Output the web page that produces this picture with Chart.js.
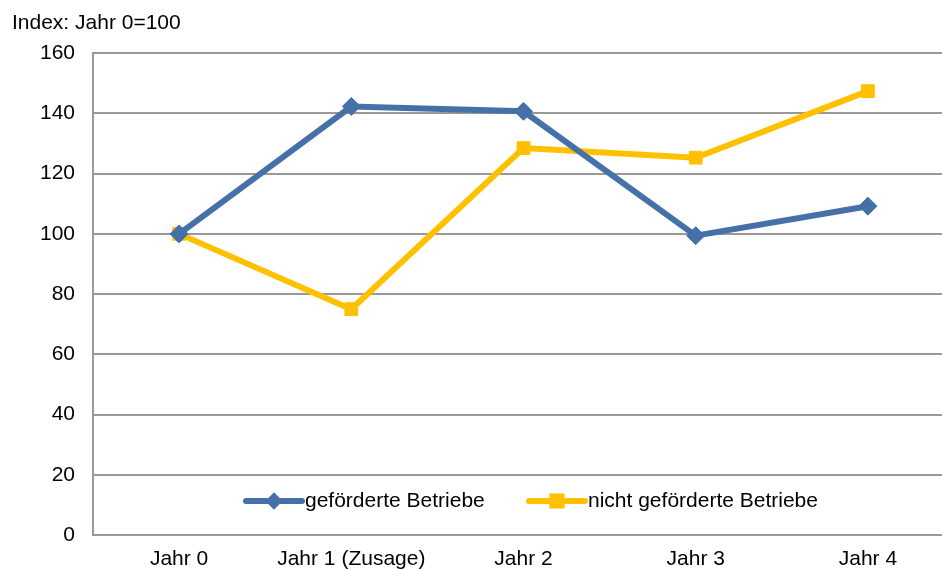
<!DOCTYPE html>
<html><head><meta charset="utf-8">
<script src="https://cdn.jsdelivr.net/npm/chart.js@4"></script>
<style>html,body{margin:0;padding:0;overflow:hidden;background:#fff}
#wrap{position:relative;width:964px;height:570px}</style></head>
<body><div id="wrap"><canvas id="c" width="964" height="570"></canvas></div>
<script>
const categories = ['Jahr 0', 'Jahr 1 (Zusage)', 'Jahr 2', 'Jahr 3', 'Jahr 4'];
const gefoerdert = [100, 142.3, 140.7, 99.4, 109.2];
const nichtGefoerdert = [100, 75, 128.5, 125.3, 147.4];
const seriesNames = ['geförderte Betriebe', 'nicht geförderte Betriebe'];
const yMin = 0, yMax = 160, yStep = 20;
const axisTitle = 'Index: Jahr 0=100';

const FONT = '"Liberation Sans", Arial, sans-serif';
const BLUE = '#4571A8';
const YELLOW = '#FFC000';

const insideLegend = {
  id: 'insideLegend',
  afterDatasetsDraw(chart) {
    const ctx = chart.ctx;
    const ca = chart.chartArea;
    const y = ca.bottom - 34;
    const starts = [153, 436];
    ctx.save();
    chart.data.datasets.forEach((ds, i) => {
      const sx = ca.left + starts[i];
      ctx.strokeStyle = ds.borderColor;
      ctx.lineWidth = 6;
      ctx.lineCap = 'round';
      ctx.beginPath();
      ctx.moveTo(sx, y);
      ctx.lineTo(sx + 56, y);
      ctx.stroke();
      ctx.fillStyle = ds.pointBackgroundColor;
      ctx.strokeStyle = ds.pointBorderColor;
      Chart.helpers.drawPoint(ctx, {pointStyle: ds.pointStyle, radius: ds.legendRadius, borderWidth: 1, rotation: 0}, sx + 28, y);
      ctx.fillStyle = '#000';
      ctx.font = '21px ' + FONT;
      ctx.textBaseline = 'middle';
      ctx.textAlign = 'left';
      ctx.fillText(ds.label, sx + 59, y);
    });
    ctx.restore();
  }
};

new Chart(document.getElementById('c'), {
  type: 'line',
  data: {
    labels: categories,
    datasets: [
      {label: seriesNames[0], data: gefoerdert, borderColor: BLUE, backgroundColor: BLUE,
       borderWidth: 6, pointStyle: 'rectRot', pointRadius: 9, pointBackgroundColor: BLUE,
       pointBorderColor: BLUE, pointBorderWidth: 1, tension: 0, legendRadius: 4.5},
      {label: seriesNames[1], data: nichtGefoerdert, borderColor: YELLOW, backgroundColor: YELLOW,
       borderWidth: 6, pointStyle: 'rect', pointRadius: 9, pointBackgroundColor: YELLOW,
       pointBorderColor: YELLOW, pointBorderWidth: 1, tension: 0, legendRadius: 6.5}
    ]
  },
  options: {
    responsive: false,
    animation: false,
    layout: {padding: {left: 12, right: 3, top: 0, bottom: 0}},
    plugins: {
      legend: {display: false},
      tooltip: {enabled: false},
      title: {display: true, text: axisTitle, align: 'start', color: '#000',
        font: {family: FONT, size: 21, weight: 'normal'}, padding: {top: 11, bottom: 17}}
    },
    scales: {
      x: {
        offset: true,
        grid: {display: false, drawTicks: false},
        border: {display: true, color: '#999', width: 2},
        ticks: {color: '#000', font: {family: FONT, size: 21}, padding: 12, maxRotation: 0, autoSkip: false},
        afterFit(s) { s.height = 35; }
      },
      y: {
        min: yMin, max: yMax,
        grid: {color: '#999', lineWidth: 2, drawTicks: false},
        border: {display: true, color: '#999', width: 2},
        ticks: {stepSize: yStep, color: '#000', font: {family: FONT, size: 21}, padding: 18},
        afterFit(s) { s.width = 81; }
      }
    }
  },
  plugins: [insideLegend]
});
</script>
</body></html>
